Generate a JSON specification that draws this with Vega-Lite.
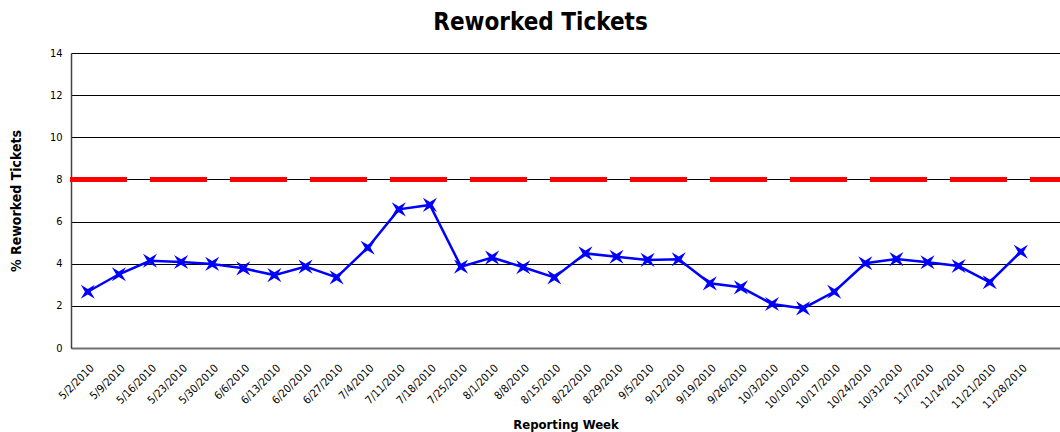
{
  "$schema": "https://vega.github.io/schema/vega-lite/v6.json",
  "width": 989,
  "height": 295,
  "autosize": {"type": "none"},
  "padding": {"left": 71, "top": 53, "right": 0, "bottom": 84},
  "background": "white",
  "title": {
    "text": "Reworked Tickets",
    "font": "Liberation Sans Narrow, Arial Narrow, DejaVu Sans Condensed, sans-serif",
    "fontSize": 24,
    "fontWeight": "bold",
    "color": "black",
    "anchor": "middle",
    "frame": "group",
    "dx": -25,
    "offset": 12
  },
  "data": {
    "values": [
      {"week": "5/2/2010", "pct": 2.67},
      {"week": "5/9/2010", "pct": 3.5},
      {"week": "5/16/2010", "pct": 4.14},
      {"week": "5/23/2010", "pct": 4.08},
      {"week": "5/30/2010", "pct": 3.99},
      {"week": "6/6/2010", "pct": 3.78},
      {"week": "6/13/2010", "pct": 3.46},
      {"week": "6/20/2010", "pct": 3.86},
      {"week": "6/27/2010", "pct": 3.35},
      {"week": "7/4/2010", "pct": 4.76},
      {"week": "7/11/2010", "pct": 6.58},
      {"week": "7/18/2010", "pct": 6.79},
      {"week": "7/25/2010", "pct": 3.86},
      {"week": "8/1/2010", "pct": 4.29},
      {"week": "8/8/2010", "pct": 3.83},
      {"week": "8/15/2010", "pct": 3.35},
      {"week": "8/22/2010", "pct": 4.49},
      {"week": "8/29/2010", "pct": 4.33},
      {"week": "9/5/2010", "pct": 4.18},
      {"week": "9/12/2010", "pct": 4.21},
      {"week": "9/19/2010", "pct": 3.07},
      {"week": "9/26/2010", "pct": 2.88},
      {"week": "10/3/2010", "pct": 2.09},
      {"week": "10/10/2010", "pct": 1.88},
      {"week": "10/17/2010", "pct": 2.67},
      {"week": "10/24/2010", "pct": 4.02},
      {"week": "10/31/2010", "pct": 4.22},
      {"week": "11/7/2010", "pct": 4.07},
      {"week": "11/14/2010", "pct": 3.89},
      {"week": "11/21/2010", "pct": 3.12},
      {"week": "11/28/2010", "pct": 4.57}
    ]
  },
  "encoding": {
    "x": {
      "field": "week",
      "type": "ordinal",
      "sort": null,
      "scale": {"type": "point", "padding": 0.9, "align": 0.3},
      "axis": {
        "title": "Reporting Week",
        "titleFontSize": 13,
        "titleFontWeight": "bold",
        "titlePadding": 8,
        "labelAngle": -45,
        "labelFontSize": 11,
        "labelPadding": 14,
        "ticks": false,
        "grid": false,
        "domainColor": "#707070",
        "domainWidth": 2
      }
    },
    "y": {
      "field": "pct",
      "type": "quantitative",
      "scale": {"domain": [0, 14], "nice": false},
      "axis": {
        "title": "% Reworked Tickets",
        "titleFontSize": 14,
        "titleFontWeight": "bold",
        "titlePadding": 26,
        "values": [0, 2, 4, 6, 8, 10, 12, 14],
        "labelFontSize": 11,
        "labelPadding": 9,
        "ticks": false,
        "grid": true,
        "gridColor": "black",
        "gridWidth": 1,
        "gridOpacity": 1,
        "domainColor": "#404040",
        "domainWidth": 1.5
      }
    }
  },
  "layer": [
    {
      "mark": {"type": "rule", "color": "#FF0000", "strokeWidth": 5, "strokeDash": [52, 28], "strokeDashOffset": 24.5, "strokeCap": "round"},
      "encoding": {"y": {"datum": 8}, "x": null}
    },
    {
      "mark": {"type": "line", "color": "#0000FF", "strokeWidth": 2.5}
    },
    {
      "mark": {
        "type": "point",
        "filled": true,
        "color": "#0000FF",
        "opacity": 1,
        "size": 200,
        "shape": "M-1,-1L-0.4,0L-1,1L0,0.4L1,1L0.4,0L1,-1L0,-0.4Z"
      }
    }
  ],
  "config": {
    "font": "Liberation Sans Narrow, Arial Narrow, DejaVu Sans Condensed, sans-serif",
    "view": {"stroke": null},
    "axis": {"labelColor": "black", "titleColor": "black"}
  }
}
